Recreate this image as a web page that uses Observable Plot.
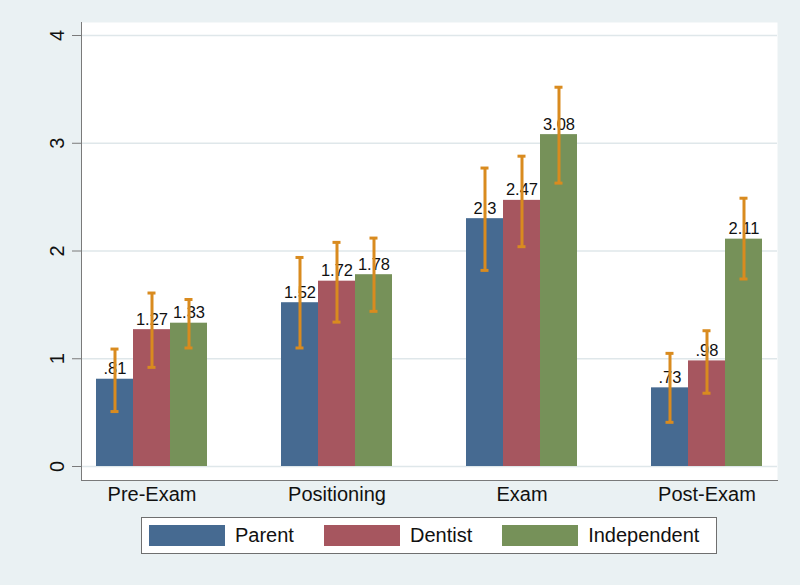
<!DOCTYPE html>
<html>
<head>
<meta charset="utf-8">
<script src="https://cdn.jsdelivr.net/npm/d3@7"></script>
<script src="https://cdn.jsdelivr.net/npm/@observablehq/plot@0.6"></script>
<style>
  html, body { margin: 0; padding: 0; background: #eaf1f3; }
  #wrap { position: relative; width: 800px; height: 585px; background: #eaf1f3; font-family: "Liberation Sans", Arial, sans-serif; }
  #legend { position: absolute; left: 141px; top: 517px; width: 576px; height: 37px; box-sizing: border-box;
            border: 1px solid #6f6f6f; background: #fff; display: flex; align-items: center; padding-left: 7px; }
  .sw { width: 76px; height: 21px; margin-right: 10px; flex-shrink: 0; }
  .lab { font-size: 20px; color: #111; margin-right: 30px; flex-shrink: 0; white-space: nowrap; }
  .lab:last-child { margin-right: 0; }
</style>
</head>
<body>
<div id="wrap"><div id="chart"></div><div id="legend"></div></div>
<script>
const categories = ["Pre-Exam", "Positioning", "Exam", "Post-Exam"];
const series = ["Parent", "Dentist", "Independent"];
const colors = ["#466a91", "#a6565f", "#769159"];
const yTicks = [0, 1, 2, 3, 4];

const parentMean = [0.81, 1.52, 2.30, 0.73];
const dentistMean = [1.27, 1.72, 2.47, 0.98];
const independentMean = [1.33, 1.78, 3.08, 2.11];

const parentLo = [0.51, 1.10, 1.82, 0.41];
const parentHi = [1.09, 1.94, 2.77, 1.05];
const dentistLo = [0.92, 1.34, 2.04, 0.68];
const dentistHi = [1.61, 2.08, 2.88, 1.26];
const independentLo = [1.10, 1.44, 2.63, 1.74];
const independentHi = [1.55, 2.12, 3.52, 2.49];

const means = [parentMean, dentistMean, independentMean];
const los = [parentLo, dentistLo, independentLo];
const his = [parentHi, dentistHi, independentHi];

const key = (c, s) => c + "|" + s;
const data = [];
const xDomain = [];
categories.forEach((c, i) => {
  if (i > 0) xDomain.push("gap" + i + "a", "gap" + i + "b");
  series.forEach((s, j) => {
    xDomain.push(key(c, s));
    data.push({category: c, series: s, key: key(c, s), mean: means[j][i], lo: los[j][i], hi: his[j][i]});
  });
});
const groupTicks = categories.map(c => key(c, series[1]));

const fmt = v => String(v).replace(/^0\./, ".");
const orange = "#d98b1f";

const chart = Plot.plot({
  width: 800,
  height: 505,
  marginLeft: 81,
  marginRight: 23,
  marginTop: 22,
  marginBottom: 25,
  style: {background: "transparent", fontFamily: "'Liberation Sans', Arial, sans-serif", color: "#111"},
  x: {domain: xDomain, paddingInner: 0, paddingOuter: 0.32, axis: null},
  y: {domain: [0, 4], insetTop: 13, insetBottom: 14, axis: null},
  color: {domain: series, range: colors},
  marks: [
    Plot.frame({fill: "white", stroke: null}),
    Plot.gridY(yTicks, {stroke: "#dfe7ea", strokeOpacity: 1, strokeWidth: 1.5}),
    Plot.frame({anchor: "left", stroke: "#7a7a7a"}),
    Plot.frame({anchor: "bottom", stroke: "#7a7a7a"}),
    Plot.axisY({ticks: yTicks, tickFormat: d => String(d), tickSize: 9, tickPadding: 9, tickRotate: -90, fontSize: 20, stroke: "#7a7a7a", label: null}),
    Plot.axisX({ticks: groupTicks, tickFormat: d => d.split("|")[0], tickSize: 0, tickPadding: 6, fontSize: 20, label: null}),
    Plot.barY(data, {x: "key", y: "mean", fill: "series"}),
    Plot.text(data, {x: "key", y: "mean", text: d => fmt(d.mean), lineAnchor: "bottom", dy: -5, fontSize: 16.5, fill: "#111"}),
    Plot.ruleX(data, {x: "key", y1: "lo", y2: "hi", stroke: orange, strokeWidth: 3}),
    Plot.tickY(data, {x: "key", y: "lo", stroke: orange, strokeWidth: 3, insetLeft: 14.5, insetRight: 14.5}),
    Plot.tickY(data, {x: "key", y: "hi", stroke: orange, strokeWidth: 3, insetLeft: 14.5, insetRight: 14.5})
  ]
});
document.getElementById("chart").appendChild(chart);

const legend = document.getElementById("legend");
series.forEach((s, j) => {
  const sw = document.createElement("div");
  sw.className = "sw";
  sw.style.background = colors[j];
  const lab = document.createElement("span");
  lab.className = "lab";
  lab.textContent = s;
  legend.appendChild(sw);
  legend.appendChild(lab);
});
</script>
</body>
</html>
